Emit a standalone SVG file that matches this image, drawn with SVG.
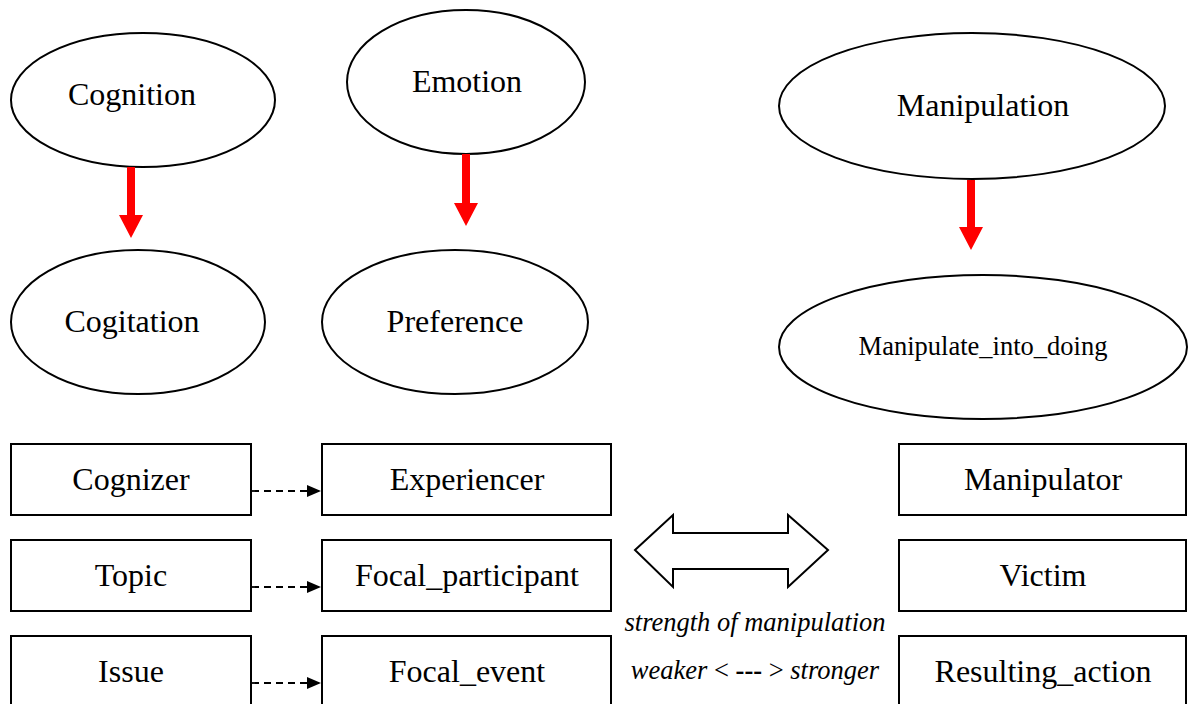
<svg xmlns="http://www.w3.org/2000/svg" width="1195" height="704" viewBox="0 0 1195 704">
  <style>
    .frame { fill: #fff; stroke: #000; stroke-width: 2; }
    .lbl { font-family: "Liberation Serif", "Times New Roman", serif; font-size: 32px; fill: #000; text-anchor: middle; }
    .small { font-size: 26.5px; }
    .note { font-family: "Liberation Serif", "Times New Roman", serif; font-size: 26.5px; fill: #000; text-anchor: middle; }
    .inh { fill: #ff0000; stroke: none; }
    .dash { stroke: #000; stroke-width: 1.8; stroke-dasharray: 7 5; fill: none; }
  </style>
  <defs>
    <marker id="tri" markerWidth="14" markerHeight="12" refX="14" refY="6" orient="auto" markerUnits="userSpaceOnUse">
      <path d="M0,0 L14,6 L0,12 Z" fill="#000"/>
    </marker>
  </defs>
  <rect width="1195" height="704" fill="#fff"/>

  <!-- frames -->
  <g id="cognition"><ellipse class="frame" cx="143" cy="100" rx="132" ry="67"/><text class="lbl" x="132" y="105">Cognition</text></g>
  <g id="emotion"><ellipse class="frame" cx="466" cy="82" rx="119" ry="72"/><text class="lbl" x="467" y="92">Emotion</text></g>
  <g id="manipulation"><ellipse class="frame" cx="972" cy="106" rx="193" ry="73"/><text class="lbl" x="983" y="116">Manipulation</text></g>
  <g id="cogitation"><ellipse class="frame" cx="138" cy="322" rx="127" ry="72"/><text class="lbl" x="132" y="332">Cogitation</text></g>
  <g id="preference"><ellipse class="frame" cx="455" cy="322" rx="133" ry="72"/><text class="lbl" x="455" y="332">Preference</text></g>
  <g id="manipulate_into_doing"><ellipse class="frame" cx="983" cy="347" rx="204" ry="72"/><text class="lbl small" x="983" y="355">Manipulate_into_doing</text></g>

  <!-- frame elements -->
  <g id="cognizer"><rect class="frame" x="11" y="444" width="240" height="71"/><text class="lbl" x="131" y="490">Cognizer</text></g>
  <g id="experiencer"><rect class="frame" x="322" y="444" width="289" height="71"/><text class="lbl" x="467" y="490">Experiencer</text></g>
  <g id="manipulator"><rect class="frame" x="899" y="444" width="287" height="71"/><text class="lbl" x="1043" y="490">Manipulator</text></g>
  <g id="topic"><rect class="frame" x="11" y="540" width="240" height="71"/><text class="lbl" x="131" y="586">Topic</text></g>
  <g id="focal_participant"><rect class="frame" x="322" y="540" width="289" height="71"/><text class="lbl" x="467" y="586">Focal_participant</text></g>
  <g id="victim"><rect class="frame" x="899" y="540" width="287" height="71"/><text class="lbl" x="1043" y="586">Victim</text></g>
  <g id="issue"><rect class="frame" x="11" y="636" width="240" height="80"/><text class="lbl" x="131" y="682">Issue</text></g>
  <g id="focal_event"><rect class="frame" x="322" y="636" width="289" height="80"/><text class="lbl" x="467" y="682">Focal_event</text></g>
  <g id="resulting_action"><rect class="frame" x="899" y="636" width="287" height="80"/><text class="lbl" x="1043" y="682">Resulting_action</text></g>

  <!-- scale -->
  <g id="strength_scale">
    <path class="frame" d="M635,550 L673,515 L673,533 L788,533 L788,515 L828,550 L788,587 L788,569 L673,569 L673,587 Z" stroke-linejoin="miter"/>
    <text class="note" x="755" y="631" font-style="italic">strength of manipulation</text>
    <text class="note" x="755" y="679"><tspan font-style="italic">weaker</tspan> &lt; <tspan font-weight="bold">---</tspan> &gt; <tspan font-style="italic">stronger</tspan></text>
  </g>

  <!-- connectors -->
  <g id="connectors">
    <path class="inh" d="M127,167 L135,167 L135,215 L143,215 L131,238 L119,215 L127,215 Z"/>
    <path class="inh" d="M462,154 L470,154 L470,203 L478,203 L466,226 L454,203 L462,203 Z"/>
    <path class="inh" d="M967,180 L975,180 L975,227 L983,227 L971,250 L959,227 L967,227 Z"/>
    <line class="dash" x1="252" y1="491" x2="321" y2="491" marker-end="url(#tri)"/>
    <line class="dash" x1="252" y1="587" x2="321" y2="587" marker-end="url(#tri)"/>
    <line class="dash" x1="252" y1="683" x2="321" y2="683" marker-end="url(#tri)"/>
  </g>
</svg>
